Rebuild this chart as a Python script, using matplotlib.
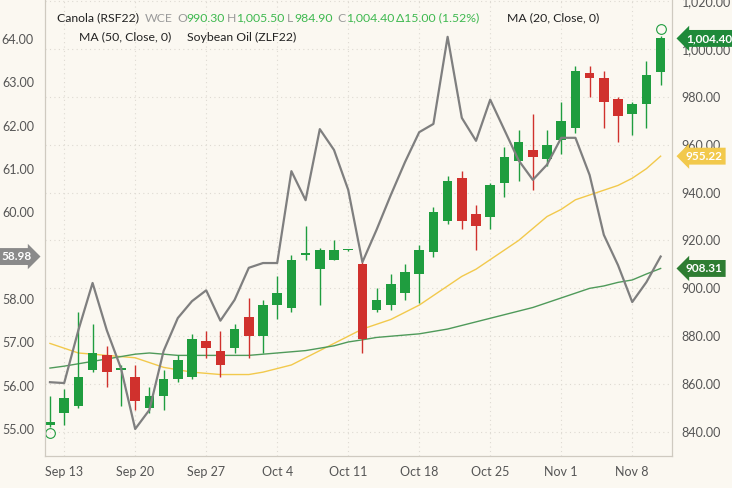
import matplotlib.pyplot as plt
import matplotlib.transforms as mtransforms
import numpy as np

# Canola (RSF22) daily OHLC, Sep 10 - Nov 10 (trading days)
opens  = [843, 848, 851, 866, 872, 866, 863, 850, 855, 862, 863, 878, 874, 875, 888, 880,
          893, 892, 914, 908, 912, 916, 910, 891, 893, 898, 906, 915, 928, 946, 931, 930,
          944, 953, 958, 954, 962, 967, 990, 988, 979, 973, 977, 990.3]
highs  = [855, 858, 890, 885, 876, 868, 868, 859, 866, 872, 881, 882, 882, 885, 896, 895,
          905, 914, 926, 917, 920, 916.5, 911, 900, 906, 910, 918, 934, 947, 949, 935, 944,
          959, 966, 973, 966, 978, 993, 993, 991, 980, 978, 995, 1005.5]
lows   = [842, 843, 850, 865, 859, 851, 849, 848, 849, 861, 862, 871, 863, 873, 871, 873,
          887, 890, 912, 893, 912, 915.5, 873, 890, 891, 895, 894, 913, 927, 925, 916, 925,
          938, 945, 941, 951, 956, 965, 980, 967, 961, 964, 967, 984.9]
closes = [844, 854, 863, 873, 865, 866, 853, 855, 862, 870, 879, 875, 868, 883, 880, 893,
          898, 912, 914.5, 916, 916, 916, 879, 895, 902, 907, 916, 932, 945, 928, 926, 943,
          955, 961, 955, 960, 970, 991, 988, 978, 972, 977, 989, 1004.4]
ma20 = [877, 875, 873, 872.5, 872, 871.5, 871, 869, 867, 866, 865, 864.5, 864, 864, 864, 865,
        866.5, 868, 871, 874, 877, 880, 883, 885, 887, 890, 893, 897, 901, 905, 908, 912,
        916, 920, 925, 930, 933, 937, 939, 941, 943, 946, 950, 955.22]
ma50 = [866.7, 867.5, 868.5, 869.5, 870.5, 871.5, 872.5, 873, 872.5, 872, 872, 872, 872, 872,
        872, 872.5, 873, 873.5, 874, 875, 876, 877.6, 878.5, 879.5, 880, 880.5, 881, 882,
        883, 884.5, 886, 887.5, 889, 890.5, 892, 894, 896, 898, 900, 901, 902.5, 903.5,
        906, 908.31]
# Soybean Oil (ZLF22) closes
soyoil = [56.08, 56.06, 57.28, 58.37, 57.28, 56.4, 55.0, 55.44, 56.8, 57.56, 57.95, 58.2,
          57.5, 57.98, 58.72, 58.83, 58.83, 60.95, 60.28, 61.92, 61.44, 60.52, 58.85, 59.6,
          60.4, 61.16, 61.85, 62.04, 64.05, 62.18, 61.65, 62.6, 61.9, 61.2, 60.75, 61.1,
          61.72, 61.72, 60.86, 59.48, 58.78, 57.93, 58.39, 58.98]
tick_idx = [1, 6, 11, 16, 21, 26, 31, 36, 41]
tick_labels = ["Sep 13", "Sep 20", "Sep 27", "Oct 4", "Oct 11", "Oct 18", "Oct 25", "Nov 1", "Nov 8"]

plt.rcParams["font.family"] = "Lato"
bg = "#fbf8f1"
green, red = "#1f9d3f", "#d0312d"
grid_c = "#dedad2"

fig = plt.figure(figsize=(7.32, 4.88), dpi=100, facecolor=bg)
ax = fig.add_axes([45/732, 32/488, 627/732, 456/488], facecolor=bg)
ax2 = ax.twinx()
x = np.arange(len(opens))

# candles
for i in x:
    c = green if closes[i] >= opens[i] else red
    ax.vlines(i, lows[i], highs[i], color=c, lw=1, zorder=3)
    lo, hi = min(opens[i], closes[i]), max(opens[i], closes[i])
    ax.bar(i, max(hi - lo, 0.6), bottom=lo, width=0.68, color=c, zorder=4)
ax.plot(x, ma20, color="#f2c94c", lw=1, zorder=2)
ax.plot(x, ma50, color="#4f9a5a", lw=1, zorder=2)
ax.plot([0], [lows[0] - 2.5], marker="o", ms=7, mfc="none", mec=green, mew=0.8, zorder=5)
ax.plot([x[-1]], [highs[-1] + 3], marker="o", ms=7, mfc="none", mec=green, mew=0.8, zorder=5)

ax.set_xlim(-0.35, 43.8)
ax.set_ylim(829.97, 1020.45)
ax.set_yticks(np.arange(840, 1021, 20))
ax.set_yticklabels([f"{v:,.2f}" for v in np.arange(840, 1021, 20)])
ax.yaxis.tick_right()
ax.yaxis.set_label_position("right")
ax.set_xticks(tick_idx)
ax.set_xticklabels(tick_labels)
ax.tick_params(length=0, labelsize=9, colors="#555555", pad=7)
ax.grid(True, ls=(0, (1, 3)), color=grid_c, lw=0.8)
ax.set_axisbelow(True)

ax2.plot(x, soyoil, color="#7f7f7f", lw=1.6, zorder=6)
ax2.set_ylim(54.377, 64.9)
ax2.set_yticks(np.arange(55, 65, 1))
ax2.set_yticklabels([f"{v:.2f}" for v in np.arange(55, 65, 1)])
ax2.yaxis.tick_left()
ax2.yaxis.set_label_position("left")
ax2.tick_params(length=0, labelsize=9, colors="#555555", pad=8)
for a in (ax, ax2):
    a.spines["top"].set_visible(False)
    for s in ("left", "right", "bottom"):
        a.spines[s].set_color("#cfcac0")

# value badges
tr_r = mtransforms.blended_transform_factory(ax.transAxes, ax.transData)
for val, col in [(closes[-1], "#1f8a3a"), (ma20[-1], "#f2c94c"), (ma50[-1], "#2e7d32")]:
    ax.text(1.022, val, f"{val:,.2f}", transform=tr_r, ha="left", va="center", fontsize=8.5,
            color="white", weight="bold", zorder=10, clip_on=False,
            bbox=dict(boxstyle="larrow,pad=0.25", fc=col, ec="none"))
tr_l = mtransforms.blended_transform_factory(ax2.transAxes, ax2.transData)
ax2.text(-0.022, soyoil[-1], f"{soyoil[-1]:.2f}", transform=tr_l, ha="right", va="center",
         fontsize=8.5, color="white", weight="bold", clip_on=False,
         bbox=dict(boxstyle="rarrow,pad=0.25", fc="#8a8a8a", ec="none"))

# header legend
hdr = [(57, 18, "Canola (RSF22)", "#222222"), (145, 18, "WCE", "#9a9a9a"),
       (177, 18, "O", "#9a9a9a"), (186, 18, "990.30", "#3fb950"),
       (227, 18, "H", "#9a9a9a"), (236, 18, "1,005.50", "#3fb950"),
       (287, 18, "L", "#9a9a9a"), (294, 18, "984.90", "#3fb950"),
       (337, 18, "C", "#9a9a9a"), (346, 18, "1,004.40", "#3fb950"),
       (396, 18, "\u039415.00 (1.52%)", "#3fb950"), (507, 18, "MA (20, Close, 0)", "#222222"),
       (79, 37, "MA (50, Close, 0)", "#222222"), (187, 37, "Soybean Oil (ZLF22)", "#222222")]
for px, py, t, c in hdr:
    fig.text(px/732, 1 - py/488, t, color=c, fontsize=8.8, ha="left", va="center")

fig.savefig("out.png", dpi=100, facecolor=bg)
